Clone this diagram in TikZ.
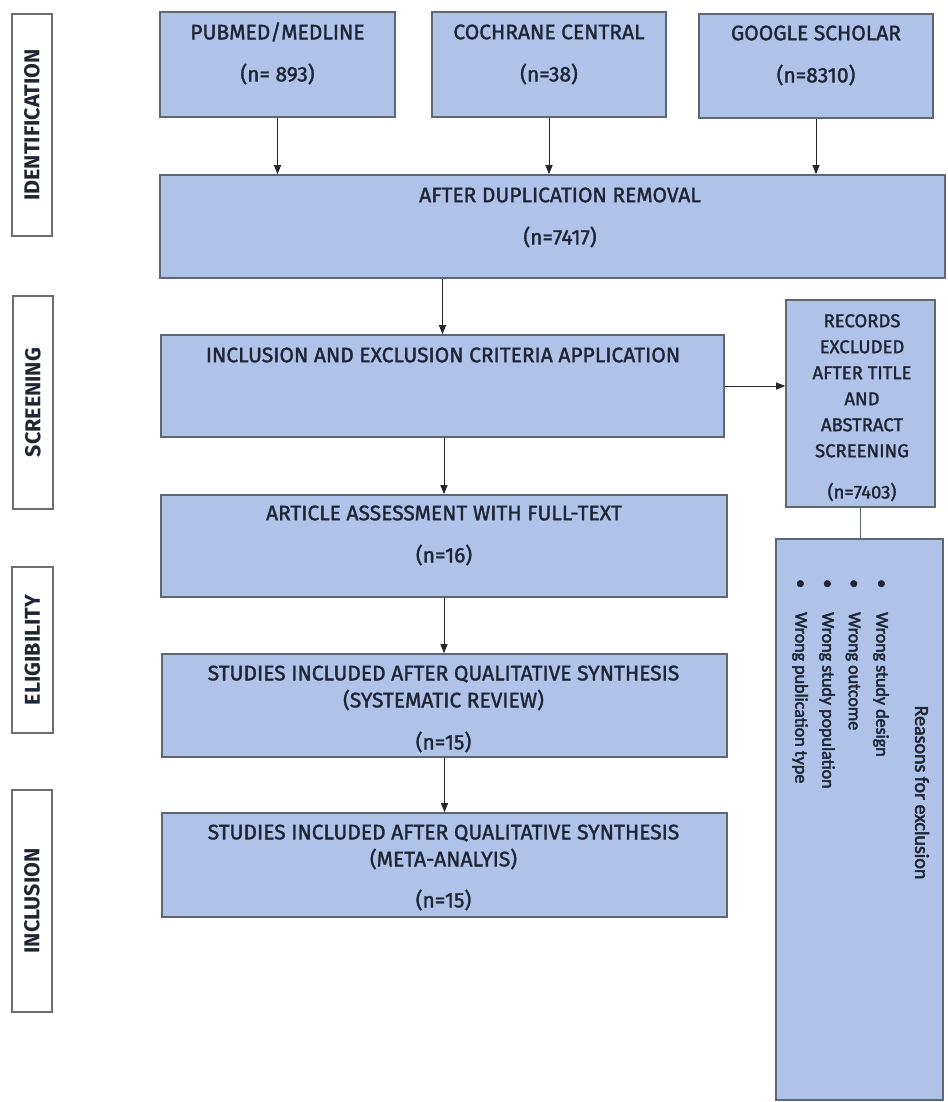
\documentclass[tikz,border=0pt]{standalone}
\usepackage{fontspec}
\setmainfont{Fira Sans}
\newfontfamily\boxfont[FakeBold=1.6]{Fira Sans}
\newfontfamily\reasonfont[FakeBold=2.5]{Carlito}
\usetikzlibrary{arrows.meta}
\definecolor{boxfill}{HTML}{AFC3E8}
\definecolor{boxline}{HTML}{5E6676}
\definecolor{txt}{HTML}{1E2636}
\definecolor{sideline}{HTML}{6E6E6E}
\begin{document}
\begin{tikzpicture}[x=1pt,y=-1pt,
  box/.style={draw=boxline, fill=boxfill, line width=1.6pt, inner sep=0pt},
  side/.style={draw=sideline, fill=white, line width=1.6pt, inner sep=0pt},
  sidetext/.style={rotate=90, text=txt, font=\fontsize{21.5}{26}\selectfont\bfseries, inner sep=0pt},
  toptext/.style={text=txt, font=\boxfont\fontsize{21}{26}\selectfont, inner sep=0pt},
  midtext/.style={text=txt, font=\boxfont\fontsize{21}{27}\selectfont, align=center, inner sep=0pt},
  rectext/.style={text=txt, font=\boxfont\fontsize{18.5}{26}\selectfont, align=center, inner sep=0pt},
  rsntext/.style={rotate=-90, text=txt, font=\reasonfont\fontsize{18}{20}\selectfont, inner sep=0pt},
  arr/.style={draw=black!85, line width=1pt, -{Triangle[length=9pt,width=7pt]}},
  link/.style={draw=boxline, line width=1pt}
]
\useasboundingbox (0,0) rectangle (947,1102);

% side labels
\node[side, minimum width=40pt, minimum height=222pt] (sid) at (32,125) {};
\node[sidetext] (tid) at (32,125) {IDENTIFICATION};
\node[side, minimum width=40pt, minimum height=213pt] (sscr) at (33,402.5) {};
\node[sidetext] (tscr) at (33,402.5) {SCREENING};
\node[side, minimum width=41pt, minimum height=166pt] (selig) at (32.5,650) {};
\node[sidetext] (telig) at (32.5,650) {ELIGIBILITY};
\node[side, minimum width=40pt, minimum height=222pt] (sincl) at (32,901) {};
\node[sidetext] (tincl) at (32,901) {INCLUSION};

% top boxes
\node[box, minimum width=235pt, minimum height=105pt] (pub) at (277.5,64.5) {};
\node[toptext] (pub1) at (277.5,32) {PUBMED/MEDLINE};
\node[toptext] (pub2) at (277.5,74) {(n= 893)};
\node[box, minimum width=234pt, minimum height=105pt] (coch) at (549,64.5) {};
\node[toptext] (coch1) at (549,32) {COCHRANE CENTRAL};
\node[toptext] (coch2) at (549,74) {(n=38)};
\node[box, minimum width=234pt, minimum height=104pt] (goog) at (816,66) {};
\node[toptext] (goog1) at (816,33) {GOOGLE SCHOLAR};
\node[toptext] (goog2) at (816,75) {(n=8310)};

\node[box, minimum width=785pt, minimum height=103pt] (dup) at (552.5,226.5) {};
\node[toptext] (dup1) at (560,195) {AFTER DUPLICATION REMOVAL};
\node[toptext] (dup2) at (560,237) {(n=7417)};

\node[box, minimum width=563pt, minimum height=102pt] (crit) at (442.5,386) {};
\node[midtext] (crit1) at (443,355) {INCLUSION AND EXCLUSION CRITERIA APPLICATION};

\node[box, minimum width=149pt, minimum height=207pt] (rec) at (860.5,403.5) {};
\node[rectext, anchor=north] (rec1) at (862,314) {RECORDS\\EXCLUDED\\AFTER TITLE\\AND\\ABSTRACT\\SCREENING};
\node[rectext] (rec2) at (862,492) {(n=7403)};

\node[box, minimum width=566pt, minimum height=102pt] (art) at (444,546) {};
\node[midtext] (art1) at (444,513) {ARTICLE ASSESSMENT WITH FULL-TEXT};
\node[midtext] (art2) at (444,555) {(n=16)};

\node[box, minimum width=565pt, minimum height=103pt] (sys) at (444.5,705.5) {};
\node[midtext] (sys1) at (443.5,688) {STUDIES INCLUDED AFTER QUALITATIVE SYNTHESIS\\(SYSTEMATIC REVIEW)};
\node[midtext] (sys2) at (443.5,742) {(n=15)};

\node[box, minimum width=565pt, minimum height=104pt] (meta) at (444.5,865) {};
\node[midtext] (meta1) at (443.5,847) {STUDIES INCLUDED AFTER QUALITATIVE SYNTHESIS\\(META-ANALYIS)};
\node[midtext] (meta2) at (443.5,900) {(n=15)};

% reasons box
\node[box, minimum width=167pt, minimum height=561pt] (rsn) at (859.5,819.5) {};
\node[rsntext, font=\reasonfont\fontsize{20}{22}\selectfont] (rsn0) at (922,792.5) {Reasons for exclusion};
\node[rsntext, anchor=west] (rsn1) at (881,579) {\makebox[33pt][l]{\textbullet}Wrong study design};
\node[rsntext, anchor=west] (rsn2) at (853,579) {\makebox[33pt][l]{\textbullet}Wrong outcome};
\node[rsntext, anchor=west] (rsn3) at (827,579) {\makebox[33pt][l]{\textbullet}Wrong study population};
\node[rsntext, anchor=west] (rsn4) at (800,579) {\makebox[33pt][l]{\textbullet}Wrong publication type};

% connectors
\draw[arr] (pub.south) -- (pub.south |- dup.north);
\draw[arr] (coch.south) -- (coch.south |- dup.north);
\draw[arr] (goog.south) -- (goog.south |- dup.north);
\draw[arr] (crit.north |- dup.south) -- (crit.north);
\draw[arr] (crit.east) -- (crit.east -| rec.west);
\draw[arr] (art.north |- crit.south) -- (art.north);
\draw[arr] (art.south) -- (art.south |- sys.north);
\draw[arr] (sys.south) -- (sys.south |- meta.north);
\draw[link] (rec.south) -- (rec.south |- rsn.north);
\end{tikzpicture}
\end{document}
